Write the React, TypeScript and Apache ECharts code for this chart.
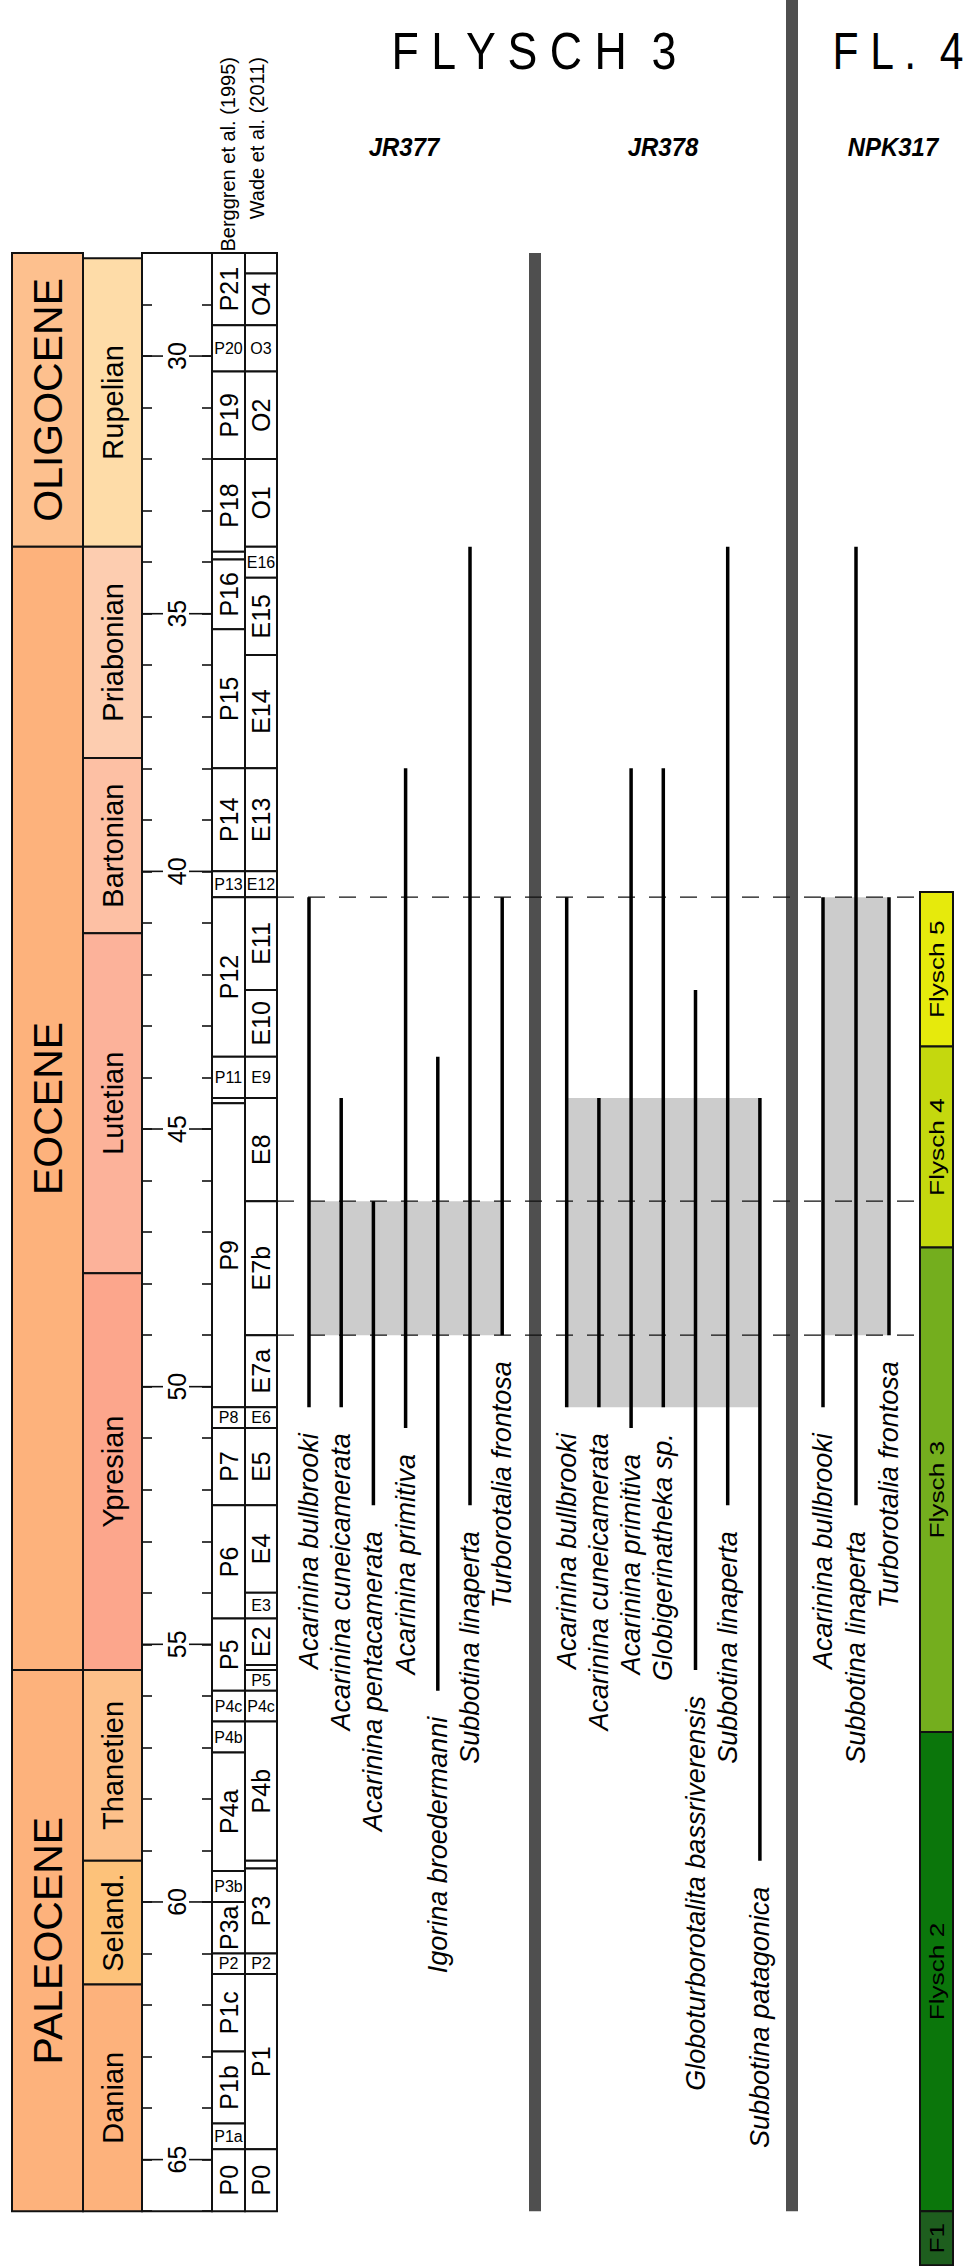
import React, { useEffect, useRef } from 'react';
import * as echarts from 'echarts';

// ---------------- DATA ----------------
const AGE_MIN = 28;
const AGE_MAX = 66;
const majorTicks = [30, 35, 40, 45, 50, 55, 60, 65];

const epochs = [
  { name: 'OLIGOCENE', top: 28.0, base: 33.7 },
  { name: 'EOCENE', top: 33.7, base: 55.5 },
  { name: 'PALEOCENE', top: 55.5, base: 66.0 },
];

const stages = [
  { name: 'Rupelian', top: 28.1, base: 33.7 },
  { name: 'Priabonian', top: 33.7, base: 37.8 },
  { name: 'Bartonian', top: 37.8, base: 41.2 },
  { name: 'Lutetian', top: 41.2, base: 47.8 },
  { name: 'Ypresian', top: 47.8, base: 55.5 },
  { name: 'Thanetien', top: 55.5, base: 59.2 },
  { name: 'Seland.', top: 59.2, base: 61.6 },
  { name: 'Danian', top: 61.6, base: 66.0 },
];

const berggrenZones = [
  { name: 'P21', top: 28.0, base: 29.4 },
  { name: 'P20', top: 29.4, base: 30.3 },
  { name: 'P19', top: 30.3, base: 32.0 },
  { name: 'P18', top: 32.0, base: 33.8 },
  { name: '', top: 33.8, base: 33.95 },
  { name: 'P16', top: 33.95, base: 35.3 },
  { name: 'P15', top: 35.3, base: 38.0 },
  { name: 'P14', top: 38.0, base: 40.0 },
  { name: 'P13', top: 40.0, base: 40.5 },
  { name: 'P12', top: 40.5, base: 43.6 },
  { name: 'P11', top: 43.6, base: 44.4 },
  { name: '', top: 44.4, base: 44.5 },
  { name: 'P9', top: 44.5, base: 50.4 },
  { name: 'P8', top: 50.4, base: 50.8 },
  { name: 'P7', top: 50.8, base: 52.3 },
  { name: 'P6', top: 52.3, base: 54.5 },
  { name: 'P5', top: 54.5, base: 55.9 },
  { name: 'P4c', top: 55.9, base: 56.5 },
  { name: 'P4b', top: 56.5, base: 57.1 },
  { name: 'P4a', top: 57.1, base: 59.4 },
  { name: 'P3b', top: 59.4, base: 60.0 },
  { name: 'P3a', top: 60.0, base: 61.0 },
  { name: 'P2', top: 61.0, base: 61.4 },
  { name: 'P1c', top: 61.4, base: 62.9 },
  { name: 'P1b', top: 62.9, base: 64.3 },
  { name: 'P1a', top: 64.3, base: 64.8 },
  { name: 'P0', top: 64.8, base: 66.0 },
];

const wadeZones = [
  { name: '', top: 28.0, base: 28.4 },
  { name: 'O4', top: 28.4, base: 29.4 },
  { name: 'O3', top: 29.4, base: 30.3 },
  { name: 'O2', top: 30.3, base: 32.0 },
  { name: 'O1', top: 32.0, base: 33.7 },
  { name: 'E16', top: 33.7, base: 34.3 },
  { name: 'E15', top: 34.3, base: 35.8 },
  { name: 'E14', top: 35.8, base: 38.0 },
  { name: 'E13', top: 38.0, base: 40.0 },
  { name: 'E12', top: 40.0, base: 40.5 },
  { name: 'E11', top: 40.5, base: 42.3 },
  { name: 'E10', top: 42.3, base: 43.6 },
  { name: 'E9', top: 43.6, base: 44.4 },
  { name: 'E8', top: 44.4, base: 46.4 },
  { name: 'E7b', top: 46.4, base: 49.0 },
  { name: 'E7a', top: 49.0, base: 50.4 },
  { name: 'E6', top: 50.4, base: 50.8 },
  { name: 'E5', top: 50.8, base: 52.3 },
  { name: 'E4', top: 52.3, base: 54.0 },
  { name: 'E3', top: 54.0, base: 54.5 },
  { name: 'E2', top: 54.5, base: 55.4 },
  { name: '', top: 55.4, base: 55.5 },
  { name: 'P5', top: 55.5, base: 55.9 },
  { name: 'P4c', top: 55.9, base: 56.5 },
  { name: 'P4b', top: 56.5, base: 59.2 },
  { name: '', top: 59.2, base: 59.35 },
  { name: 'P3', top: 59.35, base: 61.0 },
  { name: 'P2', top: 61.0, base: 61.4 },
  { name: 'P1', top: 61.4, base: 64.8 },
  { name: 'P0', top: 64.8, base: 66.0 },
];

const jr377 = [
  { name: 'Acarinina bullbrooki', top: 40.5, base: 50.4 },
  { name: 'Acarinina cuneicamerata', top: 44.4, base: 50.4 },
  { name: 'Acarinina pentacamerata', top: 46.4, base: 52.3 },
  { name: 'Acarinina primitiva', top: 38.0, base: 50.8 },
  { name: 'Igorina broedermanni', top: 43.6, base: 55.9 },
  { name: 'Subbotina linaperta', top: 33.7, base: 52.3 },
  { name: 'Turborotalia frontosa', top: 40.5, base: 49.0 },
];

const jr378 = [
  { name: 'Acarinina bullbrooki', top: 40.5, base: 50.4 },
  { name: 'Acarinina cuneicamerata', top: 44.4, base: 50.4 },
  { name: 'Acarinina primitiva', top: 38.0, base: 50.8 },
  { name: 'Globigerinatheka sp.', top: 38.0, base: 50.4 },
  { name: 'Globoturborotalita bassriverensis', top: 42.3, base: 55.5 },
  { name: 'Subbotina linaperta', top: 33.7, base: 52.3 },
  { name: 'Subbotina patagonica', top: 44.4, base: 59.2 },
];

const npk317 = [
  { name: 'Acarinina bullbrooki', top: 40.5, base: 50.4 },
  { name: 'Subbotina linaperta', top: 33.7, base: 52.3 },
  { name: 'Turborotalia frontosa', top: 40.5, base: 49.0 },
];

const jr377Shade = [46.4, 49.0];
const jr378Shade = [44.4, 50.4];
const npk317Shade = [40.5, 49.0];

const correlationAges = [40.5, 46.4, 49.0];

const flyschUnits = [
  { name: 'Flysch 5', top: 40.4, base: 43.4 },
  { name: 'Flysch 4', top: 43.4, base: 47.3 },
  { name: 'Flysch 3', top: 47.3, base: 56.7 },
  { name: 'Flysch 2', top: 56.7, base: 66.0 },
  { name: 'F1', top: 66.0, base: 67.05 },
];

// ---------------- LAYOUT / STYLE ----------------
const W = 969;
const H = 2266;
const GRID_TOP = 253;
const PX_PER_MA = 51.53;
const FONT = "'Liberation Sans', Arial, Helvetica, sans-serif";

const epochColors = ['#FDC08E', '#FDB27C', '#FDB27C'];
const stageColors = ['#FEDCA8', '#FDCDB0', '#FDC0A4', '#FCB29A', '#FCA68C', '#FDC08A', '#FDC27A', '#FDB27C'];
const flyschColors = ['#E6EA0C', '#C4D80E', '#74AE1E', '#0B760B', '#1E5E1E'];

const COL_EPOCH: [number, number] = [12, 83];
const COL_STAGE: [number, number] = [83, 142];
const COL_AGE: [number, number] = [142, 212];
const COL_BERG: [number, number] = [212, 245];
const COL_WADE: [number, number] = [245, 277];
const COL_FLYSCH: [number, number] = [920, 953];

const HORIZ_BERG = new Set(['P20', 'P13', 'P11', 'P8', 'P4c', 'P4b', 'P3b', 'P2', 'P1a']);
const HORIZ_WADE = new Set(['O3', 'E16', 'E12', 'E9', 'E6', 'E3', 'P5', 'P4c', 'P2']);

const SECTIONS = [
  { items: jr377, x0: 309, dx: 32.2, shade: jr377Shade },
  { items: jr378, x0: 566.7, dx: 32.2, shade: jr378Shade },
  { items: npk317, x0: 823, dx: 33, shade: npk317Shade },
];

function boxSeries(
  items: { name: string; top: number; base: number }[],
  col: [number, number],
  colors: string[] | null,
  label: (d: any, cx: number, cy: number, h: number) => any
) {
  return {
    type: 'custom',
    clip: false,
    silent: true,
    z: 3,
    data: items.map((d) => [d.top, d.base]),
    renderItem: (params: any, api: any) => {
      const d = items[params.dataIndex];
      const a = api.coord([col[0], d.top]);
      const b = api.coord([col[1], d.base]);
      const children: any[] = [
        {
          type: 'rect',
          shape: { x: a[0], y: a[1], width: b[0] - a[0], height: b[1] - a[1] },
          style: { fill: colors ? colors[params.dataIndex] : '#ffffff', stroke: '#111', lineWidth: 2 },
        },
      ];
      if (d.name) {
        const t = label(d, (a[0] + b[0]) / 2, (a[1] + b[1]) / 2, b[1] - a[1]);
        if (t) children.push(t);
      }
      return { type: 'group', children };
    },
  };
}

function vText(text: string, x: number, y: number, size: number, extra: any = {}) {
  return {
    type: 'text',
    x,
    y,
    rotation: Math.PI / 2,
    style: { text, font: `${size}px ${FONT}`, fill: '#000', align: 'center', verticalAlign: 'middle', ...extra },
  };
}

function zoneLabel(horiz: Set<string>) {
  return (d: any, cx: number, cy: number) => {
    if (horiz.has(d.name)) {
      return {
        type: 'text',
        x: cx,
        y: cy,
        style: { text: d.name, font: `16px ${FONT}`, fill: '#000', align: 'center', verticalAlign: 'middle' },
      };
    }
    return vText(d.name, cx, cy, 25);
  };
}

function buildOption() {
  const series: any[] = [];

  // age column frame
  series.push({
    type: 'custom',
    clip: false,
    silent: true,
    z: 3,
    data: [[AGE_MIN, AGE_MAX]],
    renderItem: (params: any, api: any) => {
      const a = api.coord([COL_AGE[0], AGE_MIN]);
      const b = api.coord([COL_AGE[1], AGE_MAX]);
      return {
        type: 'rect',
        shape: { x: a[0], y: a[1], width: b[0] - a[0], height: b[1] - a[1] },
        style: { fill: 'none', stroke: '#111', lineWidth: 2 },
      };
    },
  });

  series.push(boxSeries(epochs, COL_EPOCH, epochColors, (d, cx, cy) => vText(d.name, cx, cy, 41)));
  series.push(boxSeries(stages, COL_STAGE, stageColors, (d, cx, cy) => vText(d.name, cx, cy, 29)));
  series.push(boxSeries(berggrenZones, COL_BERG, null, zoneLabel(HORIZ_BERG)));
  series.push(boxSeries(wadeZones, COL_WADE, null, zoneLabel(HORIZ_WADE)));

  // age labels with long ticks
  series.push({
    type: 'custom',
    clip: false,
    silent: true,
    z: 4,
    data: majorTicks.map((v) => [v]),
    renderItem: (params: any, api: any) => {
      const v = majorTicks[params.dataIndex];
      const p = api.coord([0, v]);
      const y = p[1];
      return {
        type: 'group',
        children: [
          { type: 'line', shape: { x1: COL_AGE[0], y1: y, x2: 163, y2: y }, style: { stroke: '#111', lineWidth: 1.6 } },
          { type: 'line', shape: { x1: 189, y1: y, x2: COL_AGE[1], y2: y }, style: { stroke: '#111', lineWidth: 1.6 } },
          vText(String(v), 176.5, y, 25),
        ],
      };
    },
  });

  // grey section dividers
  series.push({
    type: 'custom',
    clip: false,
    silent: true,
    z: 2,
    data: [[AGE_MIN, AGE_MAX]],
    renderItem: (params: any, api: any) => {
      const a = api.coord([529, AGE_MIN]);
      const b = api.coord([541, AGE_MAX]);
      const c = api.coord([786, AGE_MAX]);
      return {
        type: 'group',
        children: [
          { type: 'rect', shape: { x: a[0], y: a[1], width: b[0] - a[0], height: b[1] - a[1] }, style: { fill: '#4F4F4F' } },
          { type: 'rect', shape: { x: c[0], y: 0, width: 12, height: c[1] }, style: { fill: '#4F4F4F' } },
        ],
      };
    },
  });

  // shading
  series.push({
    type: 'custom',
    clip: false,
    silent: true,
    z: 2,
    data: SECTIONS.map((s) => s.shade),
    renderItem: (params: any, api: any) => {
      const s = SECTIONS[params.dataIndex];
      const xl = s.x0;
      const xr = s.x0 + s.dx * (s.items.length - 1);
      const a = api.coord([xl, s.shade[0]]);
      const b = api.coord([xr, s.shade[1]]);
      return {
        type: 'rect',
        shape: { x: a[0], y: a[1], width: b[0] - a[0], height: b[1] - a[1] },
        style: { fill: '#CCCCCC' },
      };
    },
  });

  // dashed correlation lines
  series.push({
    type: 'custom',
    clip: false,
    silent: true,
    z: 5,
    data: correlationAges.map((v) => [v]),
    renderItem: (params: any, api: any) => {
      const v = correlationAges[params.dataIndex];
      const a = api.coord([COL_WADE[1], v]);
      const b = api.coord([918, v]);
      return {
        type: 'line',
        shape: { x1: a[0], y1: a[1], x2: b[0], y2: b[1] },
        style: { stroke: '#111', lineWidth: 1.4, lineDash: [17, 14] },
      };
    },
  });

  // range lines + labels
  SECTIONS.forEach((s) => {
    series.push({
      type: 'custom',
      clip: false,
      silent: true,
      z: 6,
      data: s.items.map((d) => [d.top, d.base]),
      renderItem: (params: any, api: any) => {
        const d = s.items[params.dataIndex];
        const x = s.x0 + s.dx * params.dataIndex;
        const a = api.coord([x, d.top]);
        const b = api.coord([x, d.base]);
        return {
          type: 'group',
          children: [
            { type: 'line', shape: { x1: a[0], y1: a[1], x2: b[0], y2: b[1] }, style: { stroke: '#000', lineWidth: 3.5 } },
            {
              type: 'text',
              x: b[0],
              y: b[1] + 26,
              rotation: Math.PI / 2,
              style: {
                text: d.name,
                font: `italic 27px ${FONT}`,
                fill: '#000',
                align: 'right',
                verticalAlign: 'middle',
              },
            },
          ],
        };
      },
    });
  });

  // flysch units
  series.push(
    boxSeries(flyschUnits, COL_FLYSCH, flyschColors, (d, cx, cy) => ({
      type: 'text',
      x: cx,
      y: cy,
      rotation: Math.PI / 2,
      scaleX: 1.25,
      style: { text: d.name, font: `21px ${FONT}`, fill: '#000', align: 'center', verticalAlign: 'middle' },
    }))
  );

  return {
    animation: false,
    backgroundColor: '#ffffff',
    grid: { left: 0, top: GRID_TOP, width: W, height: (AGE_MAX - AGE_MIN) * PX_PER_MA },
    xAxis: { type: 'value', min: 0, max: W, show: false },
    yAxis: [
      {
        type: 'value',
        inverse: true,
        min: AGE_MIN,
        max: AGE_MAX,
        interval: 1,
        position: 'left',
        offset: -COL_AGE[0],
        axisLine: { show: false },
        axisTick: { show: true, inside: true, length: 10, lineStyle: { color: '#111', width: 1.6 } },
        axisLabel: { show: false },
        splitLine: { show: false },
        z: 5,
      },
      {
        type: 'value',
        inverse: true,
        min: AGE_MIN,
        max: AGE_MAX,
        interval: 1,
        position: 'left',
        offset: -COL_AGE[1],
        axisLine: { show: false },
        axisTick: { show: true, inside: false, length: 10, lineStyle: { color: '#111', width: 1.6 } },
        axisLabel: { show: false },
        splitLine: { show: false },
        z: 5,
      },
    ],
    graphic: [
      {
        type: 'text',
        x: 534,
        y: 51,
        scaleX: 0.86,
        style: { text: 'F L Y S C H  3', font: `52px ${FONT}`, fill: '#000', align: 'center', verticalAlign: 'middle' },
      },
      {
        type: 'text',
        x: 898,
        y: 51,
        scaleX: 0.82,
        style: { text: 'F L .  4', font: `52px ${FONT}`, fill: '#000', align: 'center', verticalAlign: 'middle' },
      },
      {
        type: 'text',
        x: 404,
        y: 147,
        scaleX: 0.92,
        style: { text: 'JR377', font: `italic bold 26px ${FONT}`, fill: '#000', align: 'center', verticalAlign: 'middle' },
      },
      {
        type: 'text',
        x: 663,
        y: 147,
        scaleX: 0.92,
        style: { text: 'JR378', font: `italic bold 26px ${FONT}`, fill: '#000', align: 'center', verticalAlign: 'middle' },
      },
      {
        type: 'text',
        x: 893,
        y: 147,
        scaleX: 0.92,
        style: { text: 'NPK317', font: `italic bold 26px ${FONT}`, fill: '#000', align: 'center', verticalAlign: 'middle' },
      },
      {
        type: 'text',
        x: 228,
        y: 57,
        rotation: Math.PI / 2,
        style: { text: 'Berggren et al. (1995)', font: `20px ${FONT}`, fill: '#000', align: 'right', verticalAlign: 'middle' },
      },
      {
        type: 'text',
        x: 257,
        y: 57,
        rotation: Math.PI / 2,
        style: { text: 'Wade et al. (2011)', font: `20px ${FONT}`, fill: '#000', align: 'right', verticalAlign: 'middle' },
      },
    ],
    series,
  };
}

export default function App() {
  const ref = useRef<HTMLDivElement>(null);
  useEffect(() => {
    document.body.style.margin = '0';
    const chart = echarts.init(ref.current as HTMLDivElement, null, { renderer: 'svg' });
    chart.setOption(buildOption() as any);
    return () => chart.dispose();
  }, []);
  return (
    <div
      ref={ref}
      style={{ width: W, height: H, position: 'absolute', left: 0, top: 0, background: '#fff' }}
    />
  );
}
